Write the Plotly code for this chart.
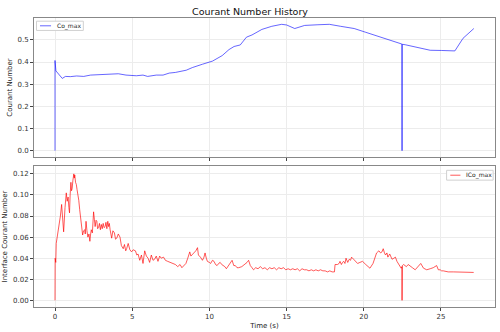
import plotly.graph_objects as go

# ---- Data: top panel (Co_max) ----
co_t = [0, 0.0, 0.06, 0.47, 0.68, 1.0, 1.4, 1.86, 2.3, 2.7, 3.14, 3.6, 4.1, 4.6, 5.27, 5.7, 6.0,
        6.56, 7.0, 7.4, 7.8, 8.5, 8.9, 9.55, 10.2, 10.83, 11.27, 11.6, 12.0, 12.4, 12.76, 13.4,
        14.04, 14.68, 15.0, 15.53, 16.17, 17.03, 17.77, 18.5, 19.38, 20.13, 20.88, 21.5, 22.16,
        22.47, 22.48, 22.49, 22.68, 23.44, 24.3, 25.04, 25.9, 26.43, 27.13]
co_v = [0.0, 0.407, 0.36, 0.326, 0.335, 0.334, 0.337, 0.335, 0.341, 0.342, 0.344, 0.343, 0.347,
        0.341, 0.338, 0.341, 0.335, 0.341, 0.341, 0.35, 0.353, 0.363, 0.375, 0.39, 0.404, 0.429,
        0.456, 0.470, 0.477, 0.512, 0.522, 0.547, 0.561, 0.57, 0.567, 0.551, 0.565, 0.568, 0.57,
        0.561, 0.551, 0.534, 0.518, 0.503, 0.49, 0.481, 0.0, 0.48, 0.478, 0.466, 0.453, 0.452,
        0.45, 0.507, 0.551]

# ---- Data: bottom panel (ICo_max) ----
ico_t = [0, 0.01, 0.03, 0.05, 0.08, 0.15, 0.26, 0.35, 0.43, 0.50,
         0.56, 0.65, 0.73, 0.79, 0.85, 0.90, 0.94, 0.98, 1.03, 1.07,
         1.11, 1.16, 1.22, 1.25, 1.28, 1.33, 1.38, 1.43, 1.48, 1.54,
         1.60, 1.65, 1.72, 1.79, 1.85, 1.92, 1.96, 2.01, 2.07, 2.13,
         2.20, 2.26, 2.30, 2.35, 2.42, 2.50, 2.55, 2.60, 2.66, 2.71,
         2.76, 2.82, 2.88, 2.94, 3.00, 3.06, 3.12, 3.18, 3.25, 3.30,
         3.36, 3.42, 3.47, 3.52, 3.57, 3.62, 3.67, 3.75, 3.85, 3.92,
         4.00, 4.10, 4.21, 4.30, 4.42, 4.50, 4.58, 4.64, 4.74, 4.85,
         4.96, 5.06, 5.21, 5.30, 5.38, 5.49, 5.60, 5.70, 5.81, 5.92,
         6.03, 6.13, 6.24, 6.35, 6.45, 6.56, 6.67, 6.78, 6.88, 7.03,
         7.15, 7.30, 7.45, 7.63, 7.80, 7.95, 8.10, 8.22, 8.35, 8.48,
         8.60, 8.73, 8.80, 8.87, 8.95, 9.02, 9.12, 9.23, 9.29, 9.42,
         9.55, 9.65, 9.72, 9.80, 9.87, 10.00, 10.08, 10.20, 10.30, 10.40,
         10.50, 10.60, 10.70, 10.80, 10.90, 11.00, 11.10, 11.20, 11.30, 11.38,
         11.47, 11.58, 11.68, 11.79, 11.90, 12.10, 12.30, 12.44, 12.54, 12.65,
         12.76, 12.86, 13.00, 13.15, 13.30, 13.45, 13.60, 13.75, 13.90, 14.05,
         14.20, 14.35, 14.50, 14.65, 14.80, 14.95, 15.10, 15.25, 15.40, 15.55,
         15.70, 15.85, 16.00, 16.15, 16.30, 16.45, 16.60, 16.75, 16.90, 17.05,
         17.20, 17.35, 17.50, 17.65, 17.80, 17.95, 18.10, 18.14, 18.30, 18.40,
         18.46, 18.55, 18.62, 18.70, 18.78, 18.85, 18.96, 19.06, 19.14, 19.21,
         19.34, 19.45, 19.60, 19.75, 19.92, 20.13, 20.40, 20.60, 20.83, 20.98,
         21.09, 21.18, 21.26, 21.34, 21.41, 21.50, 21.56, 21.68, 21.76, 21.83,
         21.95, 22.05, 22.15, 22.26, 22.42, 22.47, 22.48, 22.50, 22.58, 22.76,
         22.88, 23.00, 23.15, 23.33, 23.54, 23.69, 23.87, 24.08, 24.30, 24.50,
         24.72, 24.83, 24.95, 25.04, 25.15, 25.26, 25.47, 25.80, 26.10, 26.43,
         26.80, 27.12]
ico_v = [0.0, 0.040, 0.033, 0.036, 0.054, 0.060, 0.070, 0.080, 0.091, 0.075,
         0.065, 0.088, 0.102, 0.094, 0.098, 0.088, 0.083, 0.100, 0.112, 0.104,
         0.106, 0.114, 0.120, 0.116, 0.119, 0.112, 0.110, 0.105, 0.101, 0.095,
         0.086, 0.079, 0.068, 0.062, 0.066, 0.067, 0.063, 0.075, 0.066, 0.060,
         0.063, 0.056, 0.062, 0.067, 0.064, 0.084, 0.077, 0.070, 0.076, 0.075,
         0.068, 0.069, 0.073, 0.067, 0.072, 0.068, 0.073, 0.069, 0.070, 0.074,
         0.068, 0.075, 0.070, 0.073, 0.067, 0.063, 0.059, 0.066, 0.064, 0.058,
         0.059, 0.063, 0.060, 0.052, 0.049, 0.053, 0.047, 0.049, 0.054, 0.048,
         0.046, 0.048, 0.047, 0.043, 0.044, 0.038, 0.043, 0.035, 0.047, 0.042,
         0.040, 0.036, 0.043, 0.038, 0.039, 0.042, 0.037, 0.042, 0.040, 0.041,
         0.038, 0.037, 0.036, 0.035, 0.034, 0.032, 0.034, 0.031, 0.033, 0.035,
         0.040, 0.046, 0.042, 0.043, 0.045, 0.046, 0.047, 0.050, 0.043, 0.041,
         0.038, 0.041, 0.045, 0.040, 0.037, 0.036, 0.035, 0.038, 0.037, 0.034,
         0.033, 0.035, 0.036, 0.034, 0.033, 0.032, 0.030, 0.032, 0.034, 0.036,
         0.038, 0.033, 0.033, 0.031, 0.031, 0.032, 0.034, 0.036, 0.038, 0.033,
         0.031, 0.029, 0.031, 0.030, 0.032, 0.030, 0.031, 0.029, 0.031, 0.030,
         0.031, 0.029, 0.031, 0.030, 0.031, 0.029, 0.030, 0.029, 0.030, 0.029,
         0.030, 0.028, 0.030, 0.029, 0.029, 0.028, 0.029, 0.028, 0.029, 0.028,
         0.029, 0.028, 0.028, 0.027, 0.028, 0.027, 0.027, 0.034, 0.034, 0.035,
         0.037, 0.034, 0.036, 0.037, 0.035, 0.040, 0.036, 0.039, 0.038, 0.041,
         0.039, 0.037, 0.035, 0.036, 0.037, 0.034, 0.0305, 0.035, 0.045, 0.047,
         0.045, 0.046, 0.049, 0.045, 0.043, 0.045, 0.041, 0.044, 0.040, 0.039,
         0.040, 0.041, 0.037, 0.034, 0.0305, 0.032, 0.0, 0.033, 0.034, 0.032,
         0.034, 0.033, 0.031, 0.029, 0.033, 0.035, 0.0305, 0.029, 0.030, 0.031,
         0.033, 0.029, 0.029, 0.028, 0.028, 0.0275, 0.027, 0.027, 0.027, 0.027,
         0.0268, 0.0265]

x_ticks = [0, 5, 10, 15, 20, 25]
top_ticks = [0.0, 0.1, 0.2, 0.3, 0.4, 0.5]
bot_ticks = [0.00, 0.02, 0.04, 0.06, 0.08, 0.10, 0.12]

BLUE = "rgba(0,0,255,0.6)"
RED = "rgba(255,0,0,0.65)"
FONT = "DejaVu Sans"
fig = go.Figure()
fig.add_trace(go.Scatter(x=co_t, y=co_v, mode="lines", name="Co_max",
                         line=dict(color=BLUE, width=1), xaxis="x", yaxis="y"))
fig.add_trace(go.Scatter(x=ico_t, y=ico_v, mode="lines", name="ICo_max",
                         line=dict(color=RED, width=1), xaxis="x2", yaxis="y2"))

axis_common = dict(showline=True, mirror=True, linecolor="#888", linewidth=1,
                   ticks="outside", ticklen=3, tickcolor="#444", tickwidth=1,
                   showgrid=True, gridcolor="#ececec", gridwidth=1, zeroline=False,
                   tickfont=dict(family=FONT, size=7, color="#333"))

# Compact matplotlib-style legend boxes (paper coords relative to plot area)
legend_shapes = [
    dict(type="rect", xref="paper", yref="paper", x0=0.0054, x1=0.107, y0=0.957, y1=0.989,
         line=dict(color="#d0d0d0", width=1), fillcolor="white", layer="above"),
    dict(type="line", xref="paper", yref="paper", x0=0.013, x1=0.037, y0=0.973, y1=0.973,
         line=dict(color=BLUE, width=1), layer="above"),
    dict(type="rect", xref="paper", yref="paper", x0=0.895, x1=0.996, y0=0.439, y1=0.473,
         line=dict(color="#d0d0d0", width=1), fillcolor="white", layer="above"),
    dict(type="line", xref="paper", yref="paper", x0=0.903, x1=0.925, y0=0.456, y1=0.456,
         line=dict(color=RED, width=1), layer="above"),
]
legend_ann = [
    dict(text="Co_max", xref="paper", yref="paper", x=0.045, y=0.973, xanchor="left",
         yanchor="middle", showarrow=False, font=dict(family=FONT, size=6, color="#222")),
    dict(text="ICo_max", xref="paper", yref="paper", x=0.933, y=0.456, xanchor="left",
         yanchor="middle", showarrow=False, font=dict(family=FONT, size=6, color="#222")),
]

fig.update_layout(
    width=500, height=332,
    margin=dict(l=30, r=4, t=18, b=23),
    paper_bgcolor="white", plot_bgcolor="white",
    showlegend=False,
    shapes=legend_shapes, annotations=legend_ann,
    title=dict(text="Courant Number History", x=0.5, xanchor="center",
               y=1 - 12 / 332, yanchor="middle",
               font=dict(family=FONT, size=9.5, color="#111")),
    xaxis=dict(domain=[0, 1], anchor="y", range=[-1.36, 28.5], tickvals=x_ticks,
               showticklabels=False, **axis_common),
    yaxis=dict(domain=[0.519, 1], anchor="x", range=[-0.0285, 0.5985],
               tickvals=top_ticks, tickformat=".1f",
               title=dict(text="Courant Number", font=dict(family=FONT, size=7, color="#222"),
                          standoff=4),
               **axis_common),
    xaxis2=dict(domain=[0, 1], anchor="y2", range=[-1.36, 28.5], tickvals=x_ticks,
                matches="x",
                title=dict(text="Time (s)", font=dict(family=FONT, size=7, color="#222"),
                           standoff=2),
                **axis_common),
    yaxis2=dict(domain=[0, 0.488], anchor="x2", range=[-0.0063, 0.1275],
                tickvals=bot_ticks, tickformat=".2f",
                title=dict(text="Interface Courant Number",
                           font=dict(family=FONT, size=7, color="#222"), standoff=4),
                **axis_common),
)

fig.write_html("out.html")
